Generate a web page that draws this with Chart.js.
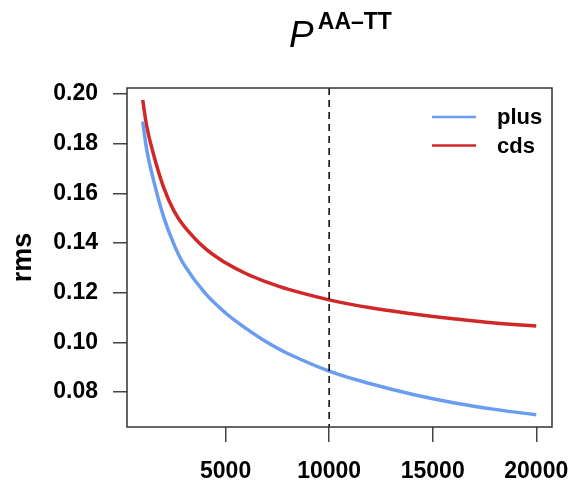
<!DOCTYPE html>
<html>
<head>
<meta charset="utf-8">
<script src="https://cdn.jsdelivr.net/npm/chart.js@4/dist/chart.umd.min.js"></script>
<style>
html,body{margin:0;padding:0;background:#fff;}
#wrap{width:576px;height:489px;position:relative;}
</style>
</head>
<body>
<div id="wrap"><canvas id="c" width="576" height="489"></canvas></div>
<script>
// ---- data ----
const sampleSizes = [1000,1200,1500,2000,2500,3000,4000,5000,6000,7000,8000,10000,12000,14000,16000,18000,20000];
const plusRms = [0.1889,0.1772,0.1660,0.1507,0.1396,0.1312,0.1199,0.1118,0.1055,0.1000,0.0955,0.0884,0.0833,0.0791,0.0757,0.0730,0.0708];
const cdsRms  = [0.1976,0.1867,0.1763,0.1626,0.1530,0.1467,0.1379,0.1320,0.1276,0.1242,0.1214,0.1171,0.1139,0.1115,0.1095,0.1078,0.1066];
const seriesLabels = ['plus','cds'];
const xTickValues = [5000,10000,15000,20000];
const yTickValues = [0.08,0.10,0.12,0.14,0.16,0.18,0.20];
const markerX = 10000;
const titleMain = 'P';
const titleSup = 'AA\u2013TT';
const yTitle = 'rms';

const FAMILY = '"Liberation Sans", Arial, Helvetica, sans-serif';
Chart.defaults.font.family = FAMILY;
Chart.defaults.color = '#000';

const toXY = (xs, ys) => xs.map((x, i) => ({x: x, y: ys[i]}));

const decor = {
  id: 'decor',
  afterDatasetsDraw(chart) {
    const {ctx, chartArea: a, scales} = chart;
    ctx.save();
    // dashed marker line
    const px = scales.x.getPixelForValue(markerX);
    ctx.strokeStyle = '#000';
    ctx.lineWidth = 1.5;
    ctx.setLineDash([7, 5]);
    ctx.beginPath();
    ctx.moveTo(px, a.top);
    ctx.lineTo(px, a.bottom);
    ctx.stroke();
    ctx.setLineDash([]);
    // box
    ctx.strokeStyle = '#333';
    ctx.lineWidth = 1.5;
    ctx.strokeRect(a.left, a.top, a.right - a.left, a.bottom - a.top);
    // title
    const cx = (a.left + a.right) / 2 + 1;
    ctx.fillStyle = '#000';
    ctx.textBaseline = 'alphabetic';
    ctx.font = 'italic 37px ' + FAMILY;
    const wP = ctx.measureText(titleMain).width;
    ctx.font = 'bold 23px ' + FAMILY;
    const wS = ctx.measureText(titleSup).width;
    const gap = 4;
    const x0 = cx - (wP + gap + wS) / 2;
    ctx.font = 'italic 37px ' + FAMILY;
    ctx.textAlign = 'left';
    ctx.fillText(titleMain, x0, 47);
    ctx.font = 'bold 23px ' + FAMILY;
    ctx.fillText(titleSup, x0 + wP + gap, 29);
    // legend
    chart.data.datasets.forEach((ds, i) => {
      const y = 117 + i * 28.5;
      ctx.strokeStyle = ds.borderColor;
      ctx.lineWidth = 2.5;
      ctx.beginPath();
      ctx.moveTo(432, y);
      ctx.lineTo(476, y);
      ctx.stroke();
      ctx.fillStyle = '#000';
      ctx.font = 'bold 22px ' + FAMILY;
      ctx.textBaseline = 'middle';
      ctx.fillText(ds.label, 497, y + 1);
    });
    ctx.restore();
  }
};

new Chart(document.getElementById('c'), {
  type: 'line',
  data: {
    datasets: [
      {label: seriesLabels[0], data: toXY(sampleSizes, plusRms), borderColor: '#6A9CF0', borderWidth: 3.5,
       pointRadius: 0, fill: false, tension: 0.4},
      {label: seriesLabels[1], data: toXY(sampleSizes, cdsRms), borderColor: '#D02828', borderWidth: 3.5,
       pointRadius: 0, fill: false, tension: 0.4}
    ]
  },
  options: {
    responsive: false,
    devicePixelRatio: 1,
    animation: false,
    layout: {padding: {top: 88, right: 24, left: 0, bottom: 0}},
    plugins: {legend: {display: false}, title: {display: false}, tooltip: {enabled: false}},
    scales: {
      x: {
        type: 'linear',
        min: 240, max: 20760,
        afterBuildTicks: s => { s.ticks = xTickValues.map(v => ({value: v})); },
        afterFit: s => { s.height = 62; s.paddingLeft = 0; s.paddingRight = 0; },
        ticks: {font: {size: 23, weight: 'bold'}, color: '#000', padding: 16, maxRotation: 0, autoSkip: false,
                callback: v => String(v)},
        grid: {display: true, drawOnChartArea: false, drawTicks: true, tickLength: 15, color: '#444', lineWidth: 1.5},
        border: {display: false}
      },
      y: {
        type: 'linear',
        min: 0.0659, max: 0.2024,
        afterBuildTicks: s => { s.ticks = yTickValues.map(v => ({value: v})); },
        afterFit: s => { s.width = 127; s.paddingTop = 0; s.paddingBottom = 0; },
        ticks: {font: {size: 23, weight: 'bold'}, color: '#000', padding: 15, autoSkip: false,
                callback: v => Number(v).toFixed(2)},
        grid: {display: true, drawOnChartArea: false, drawTicks: true, tickLength: 14, color: '#444', lineWidth: 1.5},
        border: {display: false},
        title: {display: true, text: yTitle, font: {size: 27, weight: 'bold'}, color: '#000', padding: {top: 7, bottom: 0}}
      }
    }
  },
  plugins: [decor]
});
</script>
</body>
</html>
